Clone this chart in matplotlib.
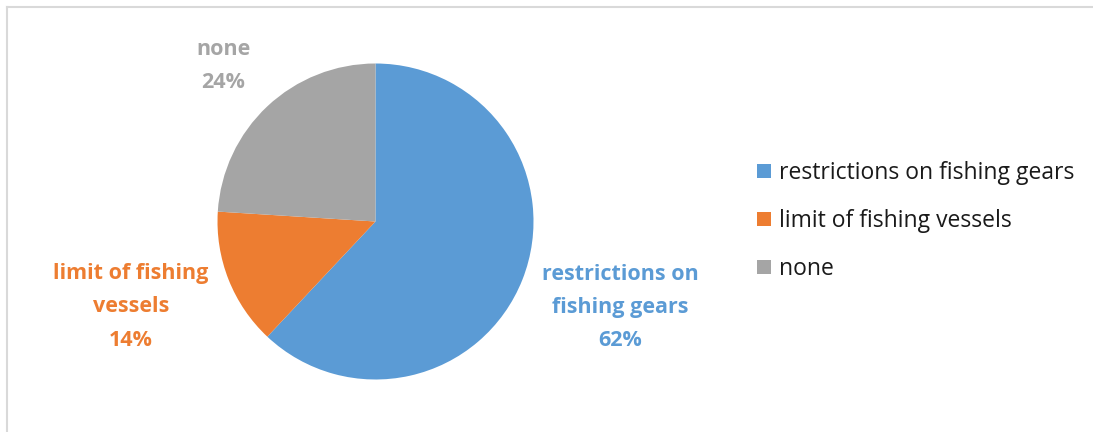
import matplotlib
matplotlib.use("Agg")
import matplotlib.pyplot as plt
from matplotlib.lines import Line2D
from matplotlib.patches import Patch

categories = ["restrictions on fishing gears", "limit of fishing vessels", "none"]
shares = [62, 14, 24]
colors = ["#5B9BD5", "#ED7D31", "#A5A5A5"]
label_lines = ["restrictions on\nfishing gears", "limit of fishing\nvessels", "none"]

W, H = 1093, 432
fig = plt.figure(figsize=(W / 100, H / 100), dpi=100)
fig.patch.set_facecolor("white")

# chart-area frame (top and left edges visible)
fig.add_artist(Line2D([7 / W, 7 / W], [0, 1 - 7 / H], transform=fig.transFigure,
                      color="#D9D9D9", lw=1.5))
fig.add_artist(Line2D([7 / W, 1], [1 - 7 / H, 1 - 7 / H], transform=fig.transFigure,
                      color="#D9D9D9", lw=1.5))

cx, cy, r = 375.5, 221.5, 158
ax = fig.add_axes([(cx - r) / W, (H - cy - r) / H, 2 * r / W, 2 * r / H])
wedges, _ = ax.pie(shares, colors=colors, startangle=90, counterclock=False,
                   radius=1.0, wedgeprops=dict(linewidth=0))
ax.set_xlim(-1, 1)
ax.set_ylim(-1, 1)
ax.set_aspect("equal")
ax.axis("off")

font = "Open Sans"
# data labels, placed in pixel coordinates of the figure
label_pos = [(620, 307), (131, 307), (223, 66)]
for txt, val, col, (x, y) in zip(label_lines, shares, colors, label_pos):
    fig.text(x / W, 1 - y / H, f"{txt}\n{val}%", ha="center", va="center",
             color=col, fontsize=15.5, fontweight="bold", family=font,
             linespacing=1.75)

handles = [Patch(facecolor=c, edgecolor="none") for c in colors]
fig.legend(handles, categories, loc="center left",
           bbox_to_anchor=(757 / W, 1 - 221 / H), frameon=False,
           prop=dict(family=font, size=16.5), labelcolor="#1a1a1a",
           handlelength=0.6, handleheight=0.6, handletextpad=0.35,
           labelspacing=1.05, borderpad=0, borderaxespad=0)

fig.savefig("out.png", dpi=100, facecolor="white")
